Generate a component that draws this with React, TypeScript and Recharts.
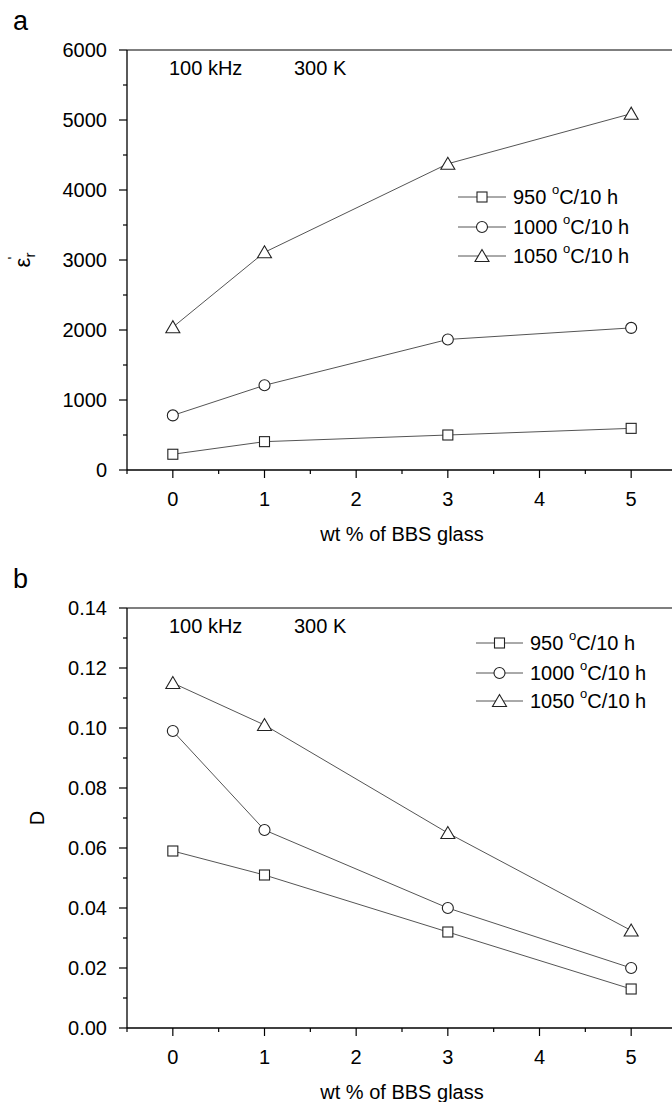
import React from 'react';
import { LineChart, Line, XAxis, YAxis, ReferenceLine } from 'recharts';

// wt % of BBS glass
const wtPercent = [0, 1, 3, 5];
const temps = ['950', '1000', '1050'];
const markerKinds = ['square', 'circle', 'triangle'];

// panel a: real permittivity
const eps950 = [225, 405, 500, 595];
const eps1000 = [780, 1210, 1865, 2030];
const eps1050 = [2040, 3110, 4375, 5090];

// panel b: loss tangent D
const loss950 = [0.059, 0.051, 0.032, 0.013];
const loss1000 = [0.099, 0.066, 0.04, 0.02];
const loss1050 = [0.115, 0.101, 0.065, 0.0325];

const xTicks = [-0.5, 0, 0.5, 1, 1.5, 2, 2.5, 3, 3.5, 4, 4.5, 5, 5.5];
const epsTicks = [0, 500, 1000, 1500, 2000, 2500, 3000, 3500, 4000, 4500, 5000, 5500, 6000];
const lossTicks = [0, 0.01, 0.02, 0.03, 0.04, 0.05, 0.06, 0.07, 0.08, 0.09, 0.1, 0.11, 0.12, 0.13, 0.14];

const FONT = '"Liberation Sans", Arial, sans-serif';

const buildRows = (a: number[], b: number[], c: number[]) =>
  wtPercent.map((x, i) => ({ x, s0: a[i], s1: b[i], s2: c[i] }));

const epsRows = buildRows(eps950, eps1000, eps1050);
const lossRows = buildRows(loss950, loss1000, loss1050);

const Marker = ({ kind, cx, cy }: { kind: string; cx: number; cy: number }) => {
  const st = { fill: '#fff', stroke: '#222', strokeWidth: 1.1 };
  if (kind === 'square') return <rect x={cx - 5} y={cy - 5} width={10} height={10} {...st} />;
  if (kind === 'circle') return <circle cx={cx} cy={cy} r={5.5} {...st} />;
  return <polygon points={`${cx},${cy - 6.5} ${cx - 7},${cy + 5.5} ${cx + 7},${cy + 5.5}`} {...st} />;
};

const XTick = (props: any) => {
  const { x, y, payload } = props;
  const v = payload.value;
  const major = Number.isInteger(v);
  return (
    <g>
      <line x1={x} x2={x} y1={y} y2={y + (major ? 8 : 4)} stroke="#000" strokeWidth={1.2} />
      {major && (
        <text x={x} y={y + 29} textAnchor="middle" dominantBaseline="central" fontSize={20} fontFamily={FONT} fill="#000">
          {v}
        </text>
      )}
    </g>
  );
};

const makeYTick = (isMajor: (v: number) => boolean, fmt: (v: number) => string) => (props: any) => {
  const { x, y, payload } = props;
  const v = payload.value;
  const major = isMajor(v);
  return (
    <g>
      <line x1={x} x2={x - (major ? 8 : 4)} y1={y} y2={y} stroke="#000" strokeWidth={1.2} />
      {major && (
        <text x={x - 20} y={y} textAnchor="end" dominantBaseline="central" fontSize={20} fontFamily={FONT} fill="#000">
          {fmt(v)}
        </text>
      )}
    </g>
  );
};

type LegendPos = { x1: number; x2: number; tx: number; ys: number[] };

type PanelProps = {
  top: number;
  letter: string;
  rows: any[];
  yTicks: number[];
  yMax: number;
  yTick: (p: any) => React.ReactElement;
  yTitle: React.ReactNode;
  legend: LegendPos;
};

const Panel = ({ top, letter, rows, yTicks, yMax, yTick, yTitle, legend }: PanelProps) => (
  <div style={{ position: 'absolute', left: 0, top, width: 700, height: 560 }}>
    <LineChart width={700} height={560} data={rows} margin={{ top: 50, right: 23, bottom: 50, left: 67 }}>
      <XAxis
        type="number"
        dataKey="x"
        domain={[-0.5, 5.5]}
        ticks={xTicks}
        interval={0}
        tick={<XTick />}
        tickLine={false}
        tickSize={0}
        tickMargin={0}
        height={40}
        axisLine={{ stroke: '#000', strokeWidth: 1.3 }}
        allowDataOverflow
      />
      <YAxis
        type="number"
        domain={[0, yMax]}
        ticks={yTicks}
        interval={0}
        tick={yTick}
        tickLine={false}
        tickSize={0}
        tickMargin={0}
        width={60}
        axisLine={{ stroke: '#000', strokeWidth: 1.3 }}
        allowDataOverflow
      />
      <ReferenceLine y={yMax} stroke="#000" strokeWidth={1.2} />
      <ReferenceLine x={5.5} stroke="#000" strokeWidth={1.2} />
      {markerKinds.map((kind, k) => (
        <Line
          key={kind}
          type="linear"
          dataKey={`s${k}`}
          stroke="#555"
          strokeWidth={1}
          isAnimationActive={false}
          dot={(p: any) => <Marker key={`${kind}-${p.index}`} kind={kind} cx={p.cx} cy={p.cy} />}
          activeDot={false}
        />
      ))}
    </LineChart>
    <svg
      width={700}
      height={560}
      style={{ position: 'absolute', left: 0, top: 0, pointerEvents: 'none' }}
      fontFamily={FONT}
    >
      <text x={13} y={30} fontSize={27} fill="#000">{letter}</text>
      <text x={169} y={68} fontSize={20} dominantBaseline="central" fill="#000">100 kHz</text>
      <text x={294} y={68} fontSize={20} dominantBaseline="central" fill="#000">300 K</text>
      <text x={402} y={534} fontSize={20} textAnchor="middle" dominantBaseline="central" fill="#000">
        wt % of BBS glass
      </text>
      {yTitle}
      {temps.map((t, k) => (
        <g key={t}>
          <line x1={legend.x1} x2={legend.x2} y1={legend.ys[k]} y2={legend.ys[k]} stroke="#555" strokeWidth={1} />
          <Marker kind={markerKinds[k]} cx={(legend.x1 + legend.x2) / 2} cy={legend.ys[k]} />
          <text x={legend.tx} y={legend.ys[k]} fontSize={20} dominantBaseline="central" fill="#000">
            {`${t} `}
            <tspan fontSize={13} dy={-8}>o</tspan>
            <tspan dy={8}>C/10 h</tspan>
          </text>
        </g>
      ))}
    </svg>
  </div>
);

const epsTitle = (
  <text transform="rotate(-90, 30, 260)" x={30} y={260} fontSize={22} textAnchor="middle" fill="#000">
    ε
    <tspan fontSize={15} dy={5}>r</tspan>
    <tspan fontSize={15} dx={-7} dy={-17}>'</tspan>
  </text>
);

const lossTitle = (
  <text transform="rotate(-90, 37, 260)" x={37} y={260} fontSize={20} textAnchor="middle" dominantBaseline="central" fill="#000">
    D
  </text>
);

export default function App() {
  return (
    <div
      style={{
        position: 'absolute',
        left: 0,
        top: 0,
        width: 672,
        height: 1102,
        overflow: 'hidden',
        background: '#fff',
        fontFamily: FONT,
      }}
    >
      <Panel
        top={0}
        letter="a"
        rows={epsRows}
        yTicks={epsTicks}
        yMax={6000}
        yTick={makeYTick((v) => v % 1000 === 0, (v) => String(v))}
        yTitle={epsTitle}
        legend={{ x1: 458, x2: 506, tx: 513, ys: [197, 227, 256] }}
      />
      <Panel
        top={558}
        letter="b"
        rows={lossRows}
        yTicks={lossTicks}
        yMax={0.14}
        yTick={makeYTick((v) => Math.round(v * 100) % 2 === 0, (v) => v.toFixed(2))}
        yTitle={lossTitle}
        legend={{ x1: 476, x2: 523, tx: 530, ys: [85, 115, 143] }}
      />
    </div>
  );
}
